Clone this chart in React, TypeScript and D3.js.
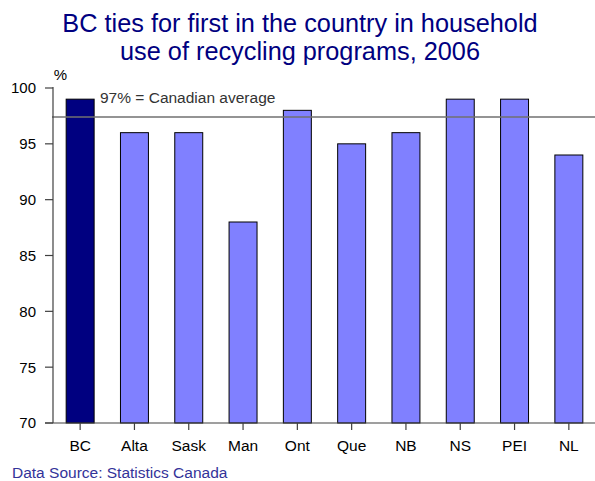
import React from "react";
import * as d3 from "d3";

const provinces = ["BC", "Alta", "Sask", "Man", "Ont", "Que", "NB", "NS", "PEI", "NL"];
const values = [99, 96, 96, 88, 98, 95, 96, 99, 99, 94];
const yTicks = [70, 75, 80, 85, 90, 95, 100];
const average = 97.4;
const titleLines = ["BC ties for first in the country in household", "use of recycling programs, 2006"];

export default function App() {
  const W = 595, H = 481;
  const left = 53, right = 596, top = 88, bottom = 423;
  const x = d3.scaleBand<string>().domain(provinces).range([left, right]).paddingInner(0.485).paddingOuter(0.2425);
  const y = d3.scaleLinear().domain([70, 100]).range([bottom, top]);
  const font = "Arial, 'Liberation Sans', sans-serif";
  const axisColor = "#404040";
  return (
    <svg width={W} height={H} style={{ position: "absolute", left: 0, top: 0 }} fontFamily={font}>
      <rect width={W} height={H} fill="#fff" />
      {titleLines.map((t, i) => (
        <text key={i} x={300} y={31.5 + i * 28.5} textAnchor="middle" fontSize={25.3} fill="#000080">{t}</text>
      ))}
      <text x={60.5} y={80} textAnchor="middle" fontSize={15} fill="#000">%</text>
      {provinces.map((p, i) => (
        <rect key={p} x={x(p)!} y={y(values[i])} width={x.bandwidth()} height={y(70) - y(values[i])}
          fill={i === 0 ? "#000080" : "#8080FF"} stroke="#000" strokeWidth={1} />
      ))}
      <line x1={left - 1} x2={W} y1={y(average)} y2={y(average)} stroke="#707070" strokeWidth={1.5} />
      <text x={100} y={103} fontSize={15.5} fill="#333">97% = Canadian average</text>
      <line x1={left} x2={left} y1={top - 1} y2={bottom} stroke={axisColor} strokeWidth={1.2} />
      <line x1={left - 8} x2={W} y1={bottom} y2={bottom} stroke={axisColor} strokeWidth={1.2} />
      {yTicks.map((t) => (
        <g key={t}>
          <line x1={left - 8} x2={left} y1={y(t)} y2={y(t)} stroke={axisColor} strokeWidth={1.2} />
          <text x={36} y={y(t)} dy="0.36em" textAnchor="end" fontSize={15} fill="#000">{t}</text>
        </g>
      ))}
      {provinces.map((p) => {
        const cx = x(p)! + x.bandwidth() / 2;
        return (
          <g key={p}>
            <line x1={cx} x2={cx} y1={bottom} y2={bottom + 7} stroke={axisColor} strokeWidth={1.2} />
            <text x={cx} y={451} textAnchor="middle" fontSize={15.5} fill="#000">{p}</text>
          </g>
        );
      })}
      <text x={12} y={478} fontSize={15.5} fill="#333399">Data Source: Statistics Canada</text>
    </svg>
  );
}
